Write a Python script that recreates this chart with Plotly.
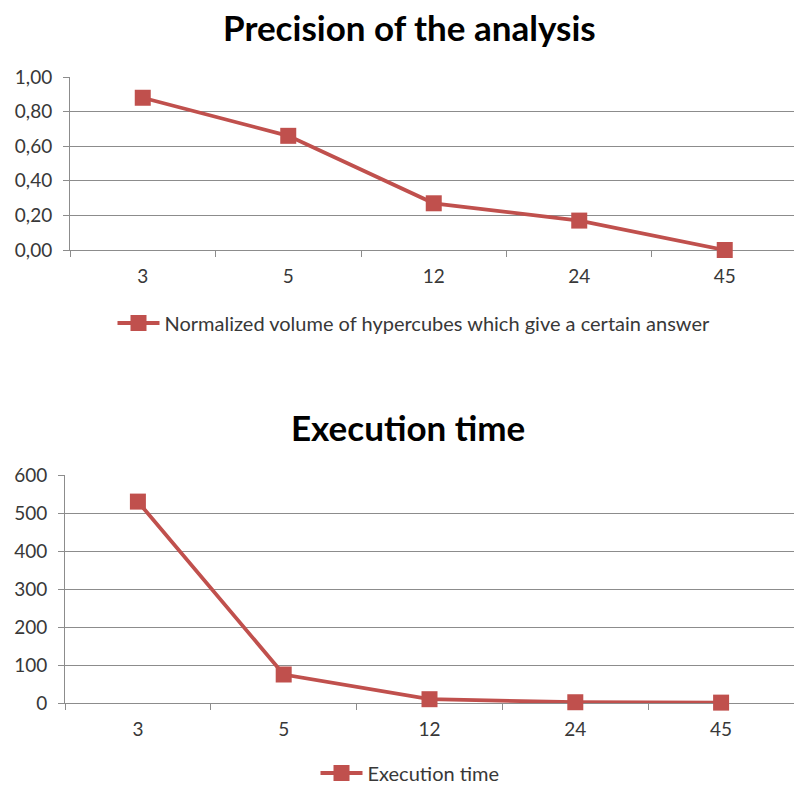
import plotly.graph_objects as go

# Category labels (number of hypercubes) and measured series
categories = ["3", "5", "12", "24", "45"]
precision_values = [0.88, 0.66, 0.27, 0.17, 0.00]
time_values = [530, 75, 10, 2, 1]

precision_name = "Normalized volume of hypercubes which give a certain answer"
time_name = "Execution time"
title_top = "Precision of the analysis"
title_bottom = "Execution time"

W, H = 794, 789
RED = "#C0504D"
GRID = "#8C8C8C"
TEXT = "#383838"
FONT = "Lato, 'Liberation Sans', sans-serif"


def px_x(p):
    return p / W


def px_y(p):
    return 1 - p / H


fig = go.Figure()

line_style = dict(color=RED, width=3.8)
marker_style = dict(symbol="square", size=16, color=RED)

fig.add_trace(go.Scatter(
    x=categories, y=precision_values, name=precision_name,
    mode="lines+markers", xaxis="x", yaxis="y", legend="legend",
    showlegend=True, cliponaxis=False,
    line=line_style, marker=marker_style,
))
fig.add_trace(go.Scatter(
    x=categories, y=time_values, name=time_name,
    mode="lines+markers", xaxis="x2", yaxis="y2", legend="legend2",
    showlegend=True, cliponaxis=False,
    line=line_style, marker=marker_style,
))

xcommon = dict(
    type="category", showgrid=False, showline=True, linecolor=GRID, linewidth=1,
    ticks="outside", tickson="boundaries", ticklen=6, tickcolor=GRID,
    ticklabelstandoff=9,
    tickfont=dict(family=FONT, size=19, color=TEXT), zeroline=False,
    fixedrange=True, automargin=False, layer="below traces",
)
ycommon = dict(
    showgrid=True, gridcolor=GRID, gridwidth=1, showline=True, linecolor=GRID,
    linewidth=1, ticks="outside", ticklen=6, tickcolor=GRID, zeroline=False,
    ticklabelstandoff=7,
    tickfont=dict(family=FONT, size=19, color=TEXT), fixedrange=True,
    automargin=False, layer="below traces",
)

legend_common = dict(
    xanchor="center", yanchor="middle", orientation="h", itemwidth=42,
    font=dict(family=FONT, size=20, color=TEXT), bgcolor="rgba(0,0,0,0)",
)

fig.update_layout(
    width=W, height=H,
    margin=dict(l=0, r=0, t=0, b=0, pad=0, autoexpand=False),
    paper_bgcolor="white", plot_bgcolor="white",
    separators=", ",
    showlegend=True,
    font=dict(family=FONT, color=TEXT),
    xaxis=dict(xcommon, domain=[px_x(70), 1], range=[-0.5, 4.476], anchor="y"),
    yaxis=dict(ycommon, domain=[px_y(250), px_y(77)], range=[0, 1], dtick=0.2,
               tickformat=".2f", anchor="x"),
    xaxis2=dict(xcommon, domain=[px_x(65), 1], range=[-0.5, 4.5], anchor="y2"),
    yaxis2=dict(ycommon, domain=[px_y(703), px_y(475)], range=[0, 600], dtick=100,
                anchor="x2"),
    legend=dict(legend_common, x=px_x(414), y=px_y(323)),
    legend2=dict(legend_common, x=px_x(410), y=px_y(773)),
    annotations=[
        dict(text="<b>%s</b>" % title_top, x=px_x(410), y=px_y(27),
             xref="paper", yref="paper", showarrow=False,
             xanchor="center", yanchor="middle",
             font=dict(family=FONT, size=35, color="black")),
        dict(text="<b>%s</b>" % title_bottom, x=px_x(408), y=px_y(427),
             xref="paper", yref="paper", showarrow=False,
             xanchor="center", yanchor="middle",
             font=dict(family=FONT, size=35, color="black")),
    ],
)

fig.write_html("out.html")
